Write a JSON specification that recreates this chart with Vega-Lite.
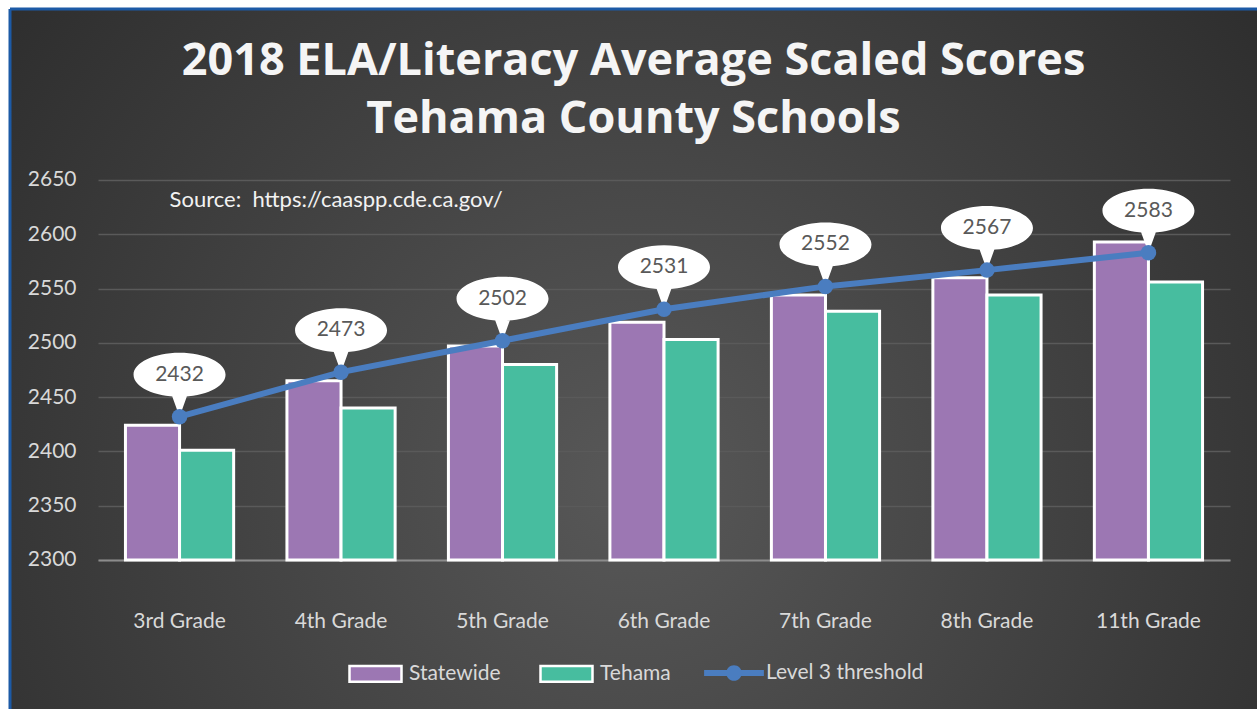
{
  "$schema": "https://vega.github.io/schema/vega-lite/v6.json",
  "width": 1247,
  "height": 700,
  "autosize": {"type": "none"},
  "padding": {"left": 10, "top": 9, "right": 0, "bottom": 0},
  "background": "white",
  "view": {
    "fill": {"gradient": "radial", "x1": 0.5, "y1": 0.6, "r1": 0, "x2": 0.5, "y2": 0.6, "r2": 0.75,
      "stops": [{"offset": 0, "color": "#585858"}, {"offset": 1, "color": "#262626"}]},
    "stroke": "#1c5aa6",
    "strokeWidth": 3,
    "strokeDash": [1247, 1947, 700, 0]
  },
  "title": {
    "text": ["2018 ELA/Literacy Average Scaled Scores", "Tehama County Schools"],
    "font": "Open Sans",
    "fontSize": 45,
    "fontWeight": "bold",
    "color": "#f5f5f5",
    "anchor": "middle",
    "frame": "group",
    "offset": -133,
    "lineHeight": 58
  },
  "config": {"font": "Lato"},
  "datasets": {
    "bars": [
      {"grade": "3rd Grade", "series": "Statewide", "value": 2424},
      {"grade": "3rd Grade", "series": "Tehama", "value": 2401},
      {"grade": "4th Grade", "series": "Statewide", "value": 2465},
      {"grade": "4th Grade", "series": "Tehama", "value": 2440},
      {"grade": "5th Grade", "series": "Statewide", "value": 2497},
      {"grade": "5th Grade", "series": "Tehama", "value": 2480},
      {"grade": "6th Grade", "series": "Statewide", "value": 2519},
      {"grade": "6th Grade", "series": "Tehama", "value": 2503},
      {"grade": "7th Grade", "series": "Statewide", "value": 2544},
      {"grade": "7th Grade", "series": "Tehama", "value": 2529},
      {"grade": "8th Grade", "series": "Statewide", "value": 2560},
      {"grade": "8th Grade", "series": "Tehama", "value": 2544},
      {"grade": "11th Grade", "series": "Statewide", "value": 2593},
      {"grade": "11th Grade", "series": "Tehama", "value": 2556}
    ],
    "threshold": [
      {"grade": "3rd Grade", "value": 2432},
      {"grade": "4th Grade", "value": 2473},
      {"grade": "5th Grade", "value": 2502},
      {"grade": "6th Grade", "value": 2531},
      {"grade": "7th Grade", "value": 2552},
      {"grade": "8th Grade", "value": 2567},
      {"grade": "11th Grade", "value": 2583}
    ],
    "note": [
      {"grade": "3rd Grade", "note": "Source:\u00a0 https://caaspp.cde.ca.gov/"}
    ]
  },
  "encoding": {
    "x": {
      "field": "grade", "type": "nominal",
      "sort": ["3rd Grade", "4th Grade", "5th Grade", "6th Grade", "7th Grade", "8th Grade", "11th Grade"],
      "scale": {"range": [88, 1220], "paddingInner": 0.33, "paddingOuter": 0.17},
      "axis": {"title": null, "orient": "bottom", "offset": -149, "labelAngle": 0, "labelPadding": 50,
        "ticks": false, "grid": false, "domain": true, "domainColor": "#8c8c8c", "domainWidth": 2,
        "labelColor": "#d9d9d9", "labelFont": "Lato", "labelFontSize": 21}
    }
  },
  "layer": [
    {
      "data": {"name": "bars"},
      "mark": {"type": "bar", "stroke": "white", "strokeWidth": 3, "opacity": 1},
      "encoding": {
        "y": {
          "field": "value", "type": "quantitative",
          "scale": {"domain": [2162.76, 2807.5], "nice": false, "zero": false},
          "axis": {"title": null, "orient": "left", "offset": -88, "values": [2300, 2350, 2400, 2450, 2500, 2550, 2600, 2650],
            "format": "d", "labelPadding": 22, "ticks": false, "domain": false, "grid": true, "gridColor": "#5a5a5a", "gridWidth": 1.5,
            "labelColor": "#d9d9d9", "labelFont": "Lato", "labelFontSize": 21}
        },
        "xOffset": {"field": "series", "type": "nominal", "sort": ["Statewide", "Tehama"]},
        "y2": {"datum": 2300},
        "color": {
          "field": "series", "type": "nominal",
          "scale": {"domain": ["Statewide", "Tehama"], "range": ["#9c77b3", "#47bd9f"]},
          "legend": {
            "orient": "none", "legendX": 338, "legendY": 637, "direction": "horizontal", "title": null,
            "labelColor": "#d9d9d9", "labelFont": "Lato", "labelFontSize": 21, "labelLimit": 300,
            "symbolSize": 2704, "labelOffset": 6, "columnPadding": 34, "symbolOpacity": 1,
            "symbolType": "M-1,-0.3H1V0.3H-1Z", "symbolStrokeColor": "white", "symbolStrokeWidth": 2.5
          }
        }
      }
    },
    {
      "data": {"name": "threshold"},
      "mark": {"type": "point", "shape": "M0.92,-0.84C0.92,-0.597 0.508,-0.4 0,-0.4C-0.508,-0.4 -0.92,-0.597 -0.92,-0.84C-0.92,-1.083 -0.508,-1.28 0,-1.28C0.508,-1.28 0.92,-1.083 0.92,-0.84Z M0.18,-0.5L0,0L-0.18,-0.5Z",
        "size": 10000, "filled": true, "color": "white", "opacity": 1, "strokeWidth": 0},
      "encoding": {
        "y": {"field": "value", "type": "quantitative", "scale": {"domain": [2162.76, 2807.5], "nice": false, "zero": false}}
      }
    },
    {
      "data": {"name": "threshold"},
      "mark": {"type": "line", "strokeWidth": 6, "color": "#4a7dc0"},
      "encoding": {
        "y": {"field": "value", "type": "quantitative", "scale": {"domain": [2162.76, 2807.5], "nice": false, "zero": false}}
      }
    },
    {
      "data": {"name": "threshold"},
      "mark": {"type": "circle", "size": 240, "opacity": 1},
      "encoding": {
        "y": {"field": "value", "type": "quantitative", "scale": {"domain": [2162.76, 2807.5], "nice": false, "zero": false}},
        "fill": {
          "datum": "Level 3 threshold",
          "scale": {"range": ["#4a7dc0"]},
          "legend": {
            "orient": "none", "legendX": 698, "legendY": 638, "direction": "horizontal", "title": null,
            "labelColor": "#d9d9d9", "labelFont": "Lato", "labelFontSize": 21, "labelLimit": 300,
            "symbolSize": 2704, "labelOffset": 6, "symbolOpacity": 1, "symbolStrokeWidth": 0,
            "symbolType": "M-1.15,-0.12H1.15V0.12H-1.15Z M0.3,0C0.3,0.166 0.166,0.3 0,0.3C-0.166,0.3 -0.3,0.166 -0.3,0C-0.3,-0.166 -0.166,-0.3 0,-0.3C0.166,-0.3 0.3,-0.166 0.3,0Z"
          }
        }
      }
    },
    {
      "data": {"name": "threshold"},
      "mark": {"type": "text", "dy": -42, "fontSize": 21, "font": "Lato", "color": "#595959", "baseline": "middle"},
      "encoding": {
        "y": {"field": "value", "type": "quantitative", "scale": {"domain": [2162.76, 2807.5], "nice": false, "zero": false}},
        "text": {"field": "value", "type": "quantitative", "format": "d"}
      }
    },
    {
      "data": {"name": "note"},
      "mark": {"type": "text", "align": "left", "baseline": "middle", "dx": -10, "fontSize": 22, "font": "Lato", "color": "#f2f2f2"},
      "encoding": {
        "y": {"datum": 2632, "type": "quantitative", "scale": {"domain": [2162.76, 2807.5], "nice": false, "zero": false}},
        "text": {"field": "note", "type": "nominal"}
      }
    }
  ]
}
